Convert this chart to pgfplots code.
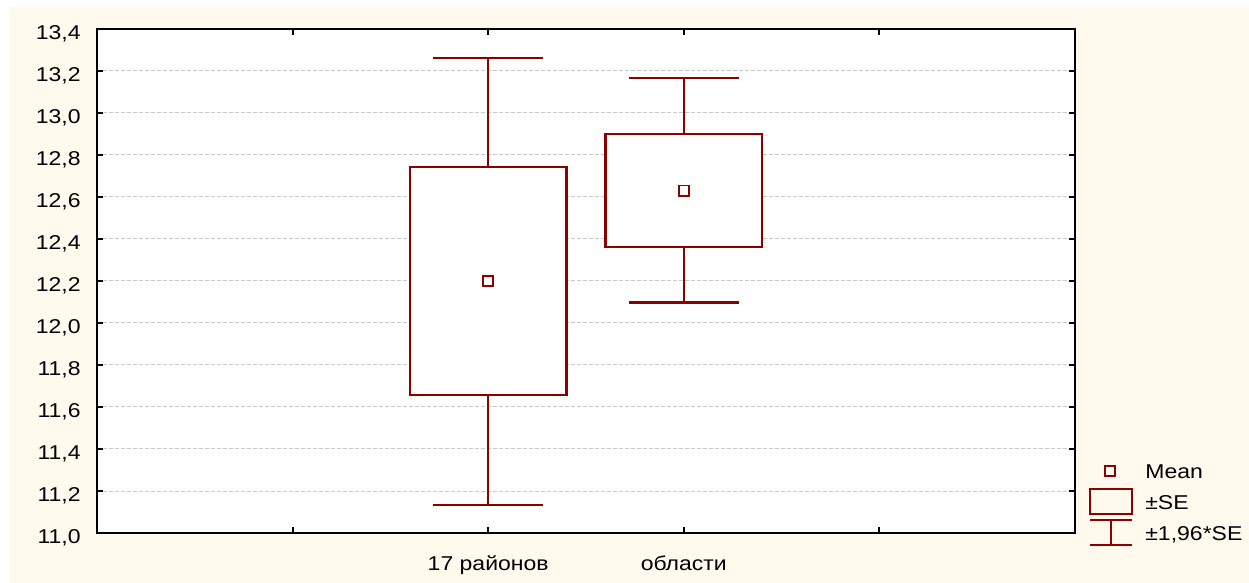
\documentclass[border=0pt]{standalone}
\usepackage{fontspec}
\setmainfont{Liberation Sans}[FakeStretch=1.15]
\usepackage{pgfplots}
\pgfplotsset{compat=1.18}

\definecolor{boxred}{RGB}{140,0,0}
\definecolor{panel}{RGB}{255,249,238}
\definecolor{gridgray}{RGB}{200,200,200}

\begin{document}
\begin{tikzpicture}[font=\fontsize{10bp}{12bp}\selectfont]
% page margin and panel behind the axis (axis box starts at the origin)
\fill[white] (-48.5bp,-25bp) rectangle (576bp,266.5bp);
\fill[panel] (-44bp,-25bp) rectangle (576bp,263bp);
\begin{axis}[
  at={(0,0)}, anchor=south west,
  scale only axis, width=489bp, height=252bp,
  xmin=-1, xmax=4, ymin=11, ymax=13.4,
  xtick={0,1,2,3},
  xticklabels={,17 районов,области,},
  ytick={11,11.2,11.4,11.6,11.8,12,12.2,12.4,12.6,12.8,13,13.2,13.4},
  scaled y ticks=false,
  yticklabel style={/pgf/number format/.cd, fixed, fixed zerofill, precision=1,
    use comma, assume math mode=true, /tikz/.cd,
    anchor=base east, inner sep=0pt, xshift=-8bp, yshift=-5bp},
  xticklabel style={anchor=base, inner sep=0pt, yshift=-18.5bp},
  axis background/.style={fill=white},
  axis line style={line width=1.2bp, black},
  tick style={line width=1bp, black},
  major tick length=3bp,
  ymajorgrids,
  major grid style={gridgray, line width=0.5bp, dash pattern=on 2bp off 1bp},
  unbounded coords=jump,
  legend style={at={(1.0153,-0.0159)}, anchor=south west, draw=none, fill=none,
    inner sep=0pt, row sep=7.5bp, column sep=6.5bp,
    nodes={inner sep=0pt, text height=8bp, text depth=0pt}},
  legend cell align=left,
]
% +-1.96*SE whiskers: upper cap, upper stem, lower stem, lower cap
\addplot[boxred, line width=1.1bp, forget plot] coordinates {
  (0.72,13.263) (1.28,13.263) (1,nan) (1,13.263) (1,12.741) (1,nan)
  (1,11.657) (1,11.135) (1,nan) (0.72,11.135) (1.28,11.135)};
\addplot[boxred, line width=1.1bp, forget plot] coordinates {
  (1.72,13.165) (2.28,13.165) (2,nan) (2,13.165) (2,12.901) (2,nan)
  (2,12.362) (2,12.098) (2,nan) (1.72,12.098) (2.28,12.098)};
% +-SE boxes
\addplot[boxred, line width=1.1bp, line join=miter, fill=white, forget plot] coordinates {
  (0.6,11.657) (1.4,11.657) (1.4,12.741) (0.6,12.741) (0.6,11.657) (1.4,11.657)};
\addplot[boxred, line width=1.1bp, line join=miter, fill=white, forget plot] coordinates {
  (1.6,12.362) (2.4,12.362) (2.4,12.901) (1.6,12.901) (1.6,12.362) (2.4,12.362)};
% means
\addplot[only marks, mark=square*, mark size=2.55bp, draw=boxred,
  mark options={draw=boxred, fill=white, line width=0.9bp}, forget plot]
  coordinates {(1,12.20) (2,12.63)};

\addlegendimage{legend image code/.code={
  \draw[boxred, line width=0.9bp, fill=white, overlay] (7.5bp,-2.5bp) rectangle (12.5bp,2.5bp);
  \path[draw=none, fill=none] (0,-4bp) rectangle (21bp,4bp);}}
\addlegendentry{Mean}
\addlegendimage{legend image code/.code={
  \draw[boxred, line width=1.1bp, fill=none, overlay] (0,-6.25bp) rectangle (21bp,6.25bp);
  \path[draw=none, fill=none] (0,-4bp) rectangle (21bp,4bp);}}
\addlegendentry{±SE}
\addlegendimage{legend image code/.code={
  \draw[boxred, line width=1.1bp, overlay] (0,6.25bp) -- (21bp,6.25bp)
    (10.5bp,6.25bp) -- (10.5bp,-6.25bp) (0,-6.25bp) -- (21bp,-6.25bp);
  \path[draw=none, fill=none] (0,-4bp) rectangle (21bp,4bp);}}
\addlegendentry{±1,96*SE}
\end{axis}
\end{tikzpicture}
\end{document}
